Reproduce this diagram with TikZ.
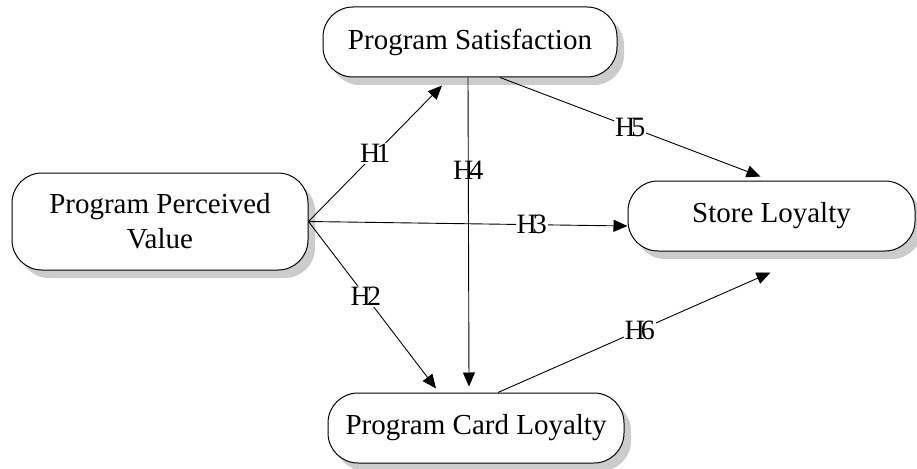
\documentclass[tikz,border=0pt]{standalone}
\usepackage{fontspec}
\setmainfont{Liberation Serif}
\usepackage{tikz}
\usetikzlibrary{arrows.meta, shadows, positioning}

\tikzset{
  construct/.style={draw, line width=1pt, rounded corners=30pt, fill=white, align=center,
    minimum width=294pt, minimum height=70pt, inner sep=2pt,
    font=\fontsize{29}{35}\selectfont,
    drop shadow={shadow xshift=7pt, shadow yshift=-8pt, fill=black!20, opacity=1}},
  hyp/.style={-{Triangle[length=14pt,width=12pt]}, line width=0.9pt},
  lbl/.style={fill=white, inner sep=1pt, font=\fontsize{28}{35}\selectfont}
}
\newcommand{\hlab}[1]{H\kern-0.14em#1}

\begin{document}
\begin{tikzpicture}[x=1pt, y=-1pt]
		\useasboundingbox (0,0) rectangle (917,468);
		\node[construct] (PS) at (470,42) {Program Satisfaction};
		\node[construct, minimum width=296pt, minimum height=97pt] (PPV) at (160,221.5) {Program Perceived\\Value};
		\node[construct, minimum width=287pt] (SL) at (771.5,216) {Store Loyalty};
		\node[construct, minimum width=296pt] (PCL) at (476,428) {Program Card Loyalty};
		\draw[hyp] (PPV.east) -- ([xshift=-28pt,yshift=-8pt]PS.south) node[lbl, pos=0.5] {\hlab{1}};
		\draw[hyp] (PPV.east) -- ([xshift=-40pt,yshift=4pt]PCL.north) node[lbl, pos=0.45] {\hlab{2}};
		\draw[hyp] (PPV.east) -- ([yshift=-10pt]SL.west) node[lbl, pos=0.7] {\hlab{3}};
		\draw[hyp] ([xshift=-2pt]PS.south) -- ([xshift=-7pt,yshift=6pt]PCL.north) node[lbl, fill=none, pos=0.3] {\hlab{4}};
		\draw[hyp] ([xshift=30pt]PS.south) -- ([xshift=-11pt,yshift=4pt]SL.north) node[lbl, pos=0.5] {\hlab{5}};
		\draw[hyp] ([xshift=22pt]PCL.north) -- ([xshift=-1pt,yshift=-21pt]SL.south) node[lbl, pos=0.52] {\hlab{6}};
		\end{tikzpicture}
\end{document}
